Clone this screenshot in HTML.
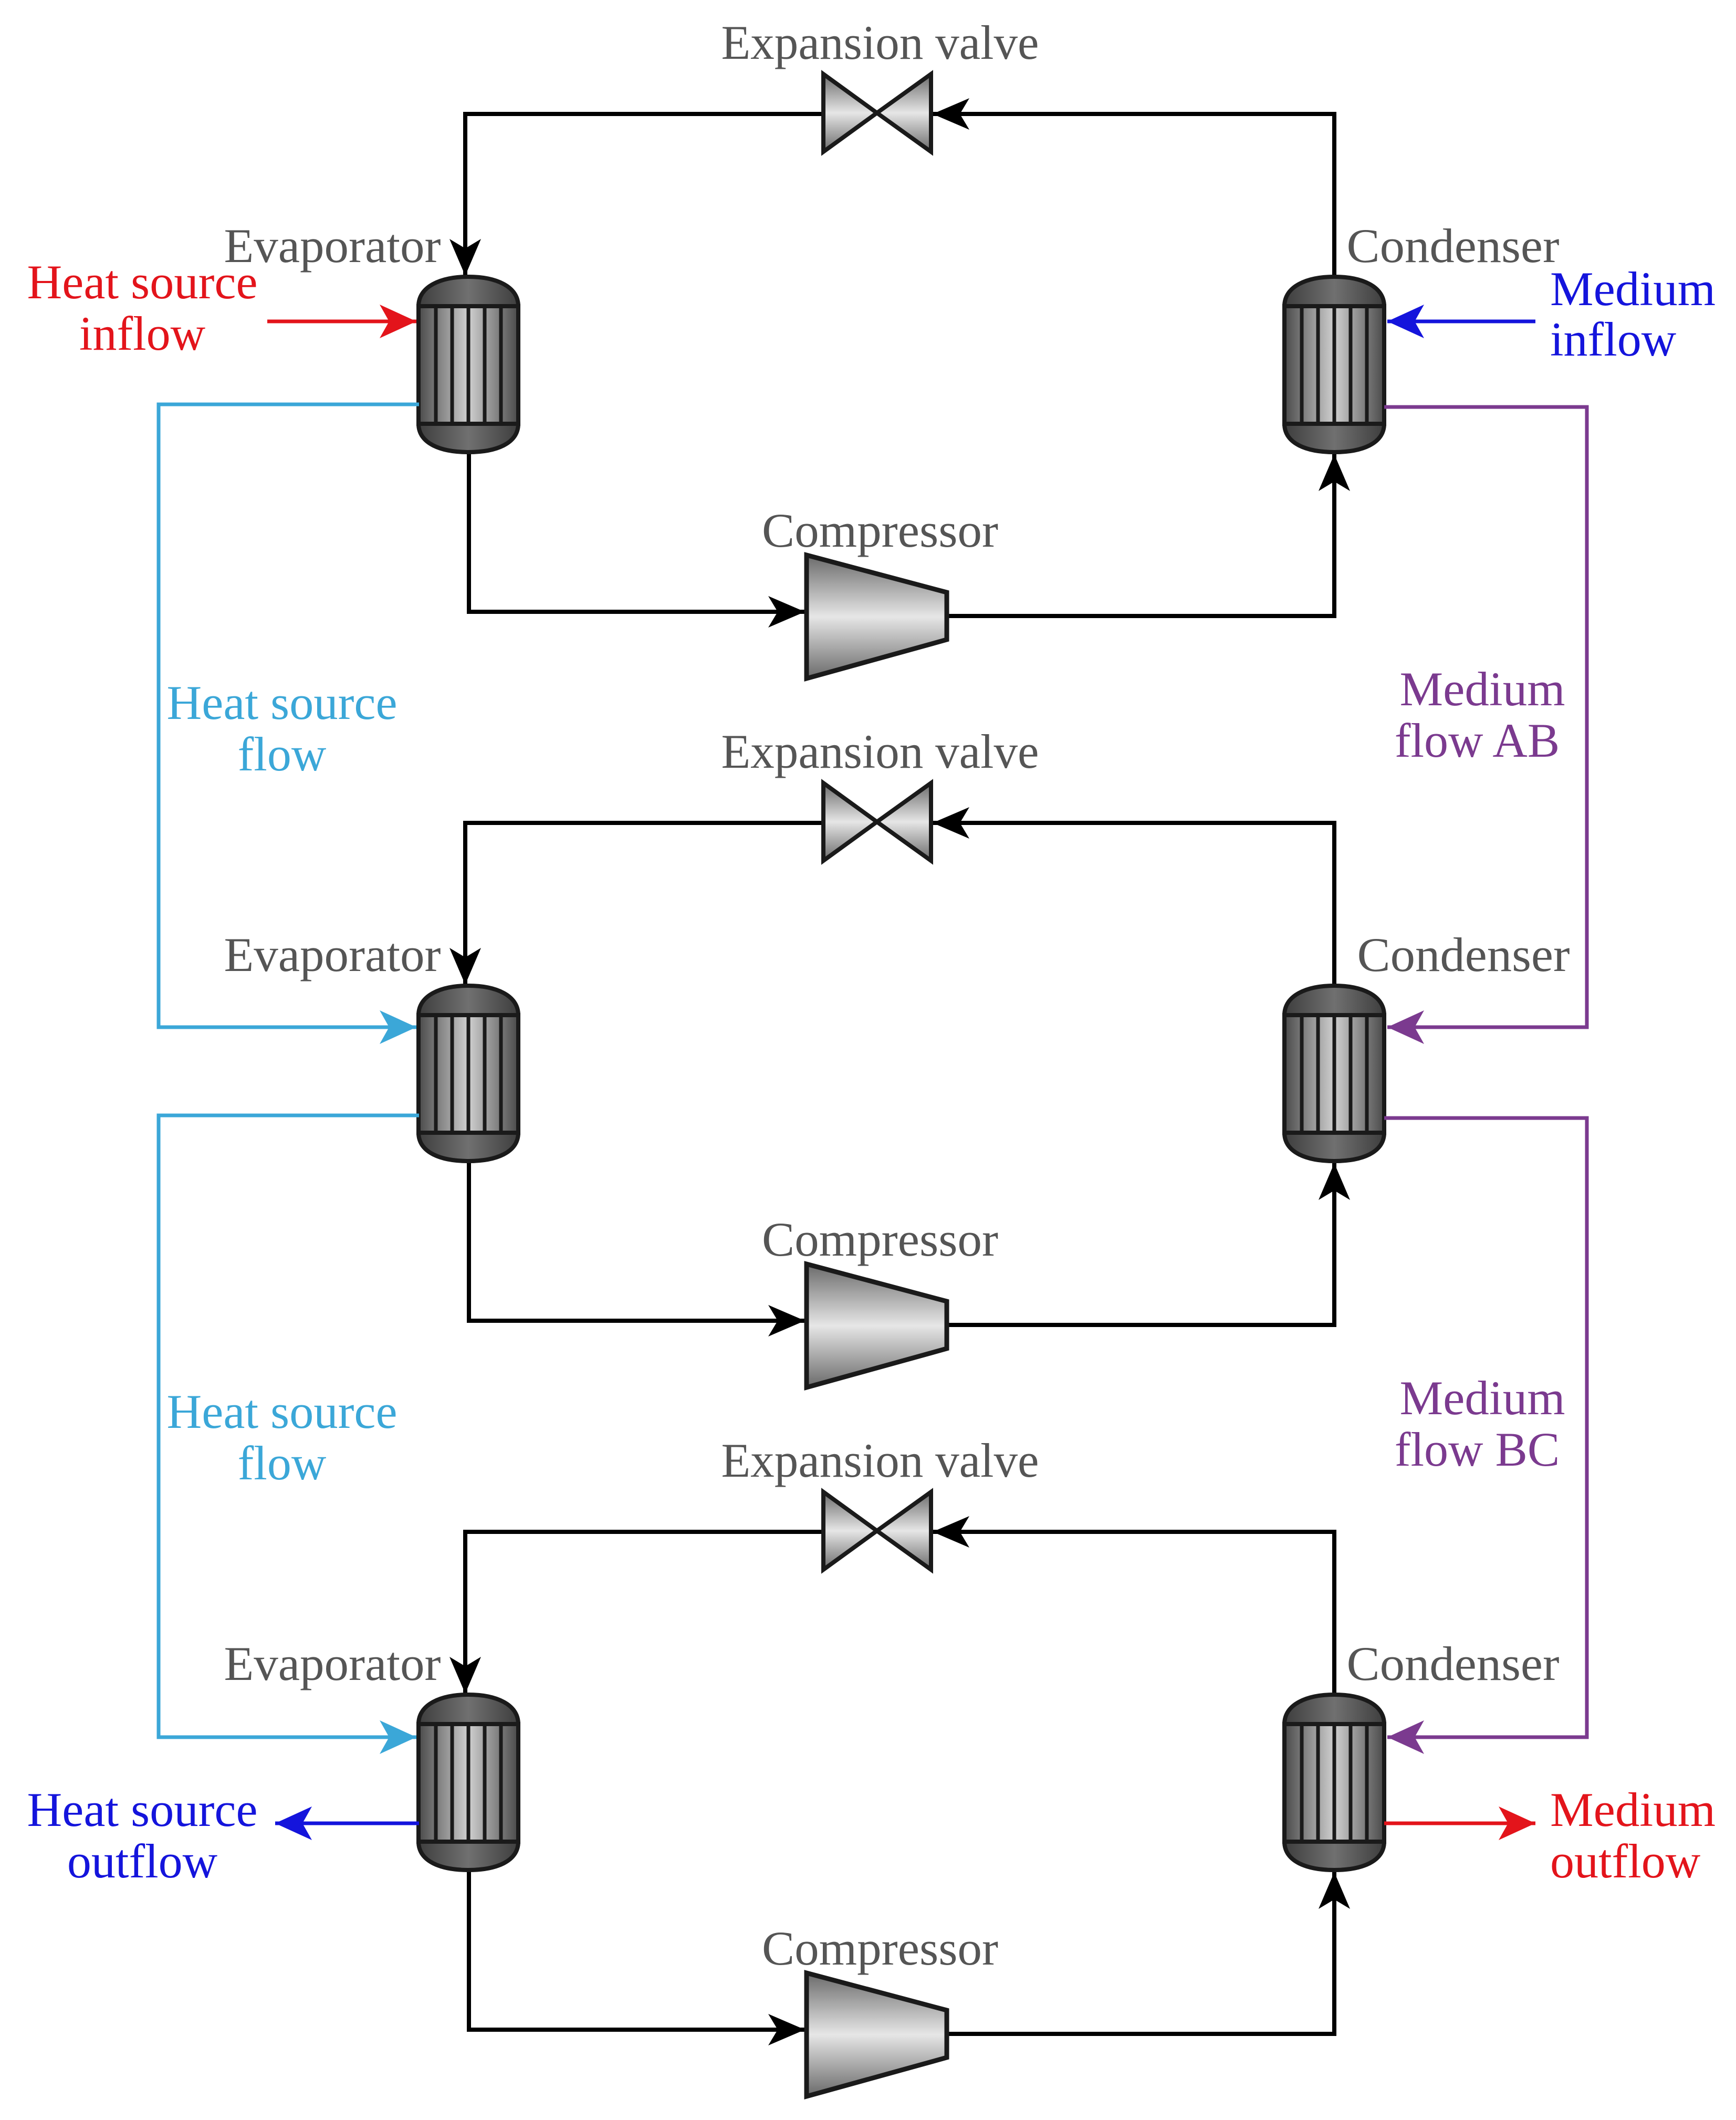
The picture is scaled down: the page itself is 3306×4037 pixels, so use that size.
<!DOCTYPE html>
<html><head><meta charset="utf-8"><style>html,body{margin:0;padding:0;background:#fff}svg{display:block}</style></head>
<body>
<svg width="3306" height="4037" viewBox="0 0 3306 4037" xmlns="http://www.w3.org/2000/svg" font-family="'Liberation Serif', serif" font-size="92">
<defs>
<linearGradient id="hx" x1="0" x2="1" y1="0" y2="0"><stop offset="0" stop-color="#4a4a4a"/><stop offset="0.5" stop-color="#d0d0d0"/><stop offset="1" stop-color="#4a4a4a"/></linearGradient>
<linearGradient id="dome" x1="0" x2="1"><stop offset="0" stop-color="#3e3e3e"/><stop offset="0.5" stop-color="#707070"/><stop offset="1" stop-color="#3e3e3e"/></linearGradient>
<linearGradient id="vg" x1="0" x2="0" y1="0" y2="1"><stop offset="0" stop-color="#6a6a6a"/><stop offset="0.5" stop-color="#e6e6e6"/><stop offset="1" stop-color="#6a6a6a"/></linearGradient>
<marker id="ak" markerUnits="userSpaceOnUse" markerWidth="90" markerHeight="90" viewBox="-80 -45 90 90" refX="0" refY="0" orient="auto"><path d="M0,0 L-70,-30 L-52,0 L-70,30 Z" fill="#000"/></marker>
<marker id="ar" markerUnits="userSpaceOnUse" markerWidth="90" markerHeight="90" viewBox="-80 -45 90 90" refX="0" refY="0" orient="auto"><path d="M0,0 L-70,-32 L-52,0 L-70,32 Z" fill="#e3141b"/></marker>
<marker id="ab" markerUnits="userSpaceOnUse" markerWidth="90" markerHeight="90" viewBox="-80 -45 90 90" refX="0" refY="0" orient="auto"><path d="M0,0 L-70,-32 L-52,0 L-70,32 Z" fill="#1414dc"/></marker>
<marker id="al" markerUnits="userSpaceOnUse" markerWidth="90" markerHeight="90" viewBox="-80 -45 90 90" refX="0" refY="0" orient="auto"><path d="M0,0 L-70,-32 L-52,0 L-70,32 Z" fill="#3ba7d8"/></marker>
<marker id="ap" markerUnits="userSpaceOnUse" markerWidth="90" markerHeight="90" viewBox="-80 -45 90 90" refX="0" refY="0" orient="auto"><path d="M0,0 L-70,-32 L-52,0 L-70,32 Z" fill="#7b3a8f"/></marker>
<g id="hxu">
<path d="M-95,56 C-95,18 -52,0 0,0 C52,0 95,18 95,56 L95,280 C95,318 52,334 0,334 C-52,334 -95,318 -95,280 Z" fill="url(#dome)" stroke="#1a1a1a" stroke-width="8"/>
<rect x="-95" y="56" width="190" height="224" fill="url(#hx)" stroke="#1a1a1a" stroke-width="8"/>
<g stroke="#1a1a1a" stroke-width="7"><line x1="-62" y1="56" x2="-62" y2="280"/><line x1="-31" y1="56" x2="-31" y2="280"/><line x1="0" y1="56" x2="0" y2="280"/><line x1="31" y1="56" x2="31" y2="280"/><line x1="62" y1="56" x2="62" y2="280"/></g>
</g>
<g id="blk">
<g fill="none" stroke="#000" stroke-width="8">
<polyline points="1568,217 886,217 886,525" marker-end="url(#ak)"/>
<polyline points="2541,527 2541,217 1776,217" marker-end="url(#ak)"/>
<polyline points="893,861 893,1165 1533,1165" marker-end="url(#ak)"/>
<polyline points="1803,1173 2541,1173 2541,865" marker-end="url(#ak)"/>
</g>
<path d="M1568,141 L1670,215 L1568,289 Z M1773,141 L1670,215 L1773,289 Z" fill="url(#vg)" stroke="#1a1a1a" stroke-width="8" stroke-linejoin="miter"/>
<path d="M1536,1057 L1803,1128 L1803,1218 L1536,1292 Z" fill="url(#vg)" stroke="#1a1a1a" stroke-width="9"/>
<use href="#hxu" x="892" y="527"/>
<use href="#hxu" x="2541" y="527"/>
<g fill="#555" text-anchor="middle">
<text x="1676" y="112" textLength="605" lengthAdjust="spacingAndGlyphs">Expansion valve</text>
<text x="633" y="499" textLength="413" lengthAdjust="spacingAndGlyphs">Evaporator</text>
<text x="1676" y="1041" textLength="450" lengthAdjust="spacingAndGlyphs">Compressor</text>
</g>
</g>
</defs>

<use href="#blk"/>
<use href="#blk" y="1350"/>
<use href="#blk" y="2700"/>

<g fill="#555" text-anchor="middle">
<text x="2767" y="499" textLength="405" lengthAdjust="spacingAndGlyphs">Condenser</text>
<text x="2787" y="1849" textLength="405" lengthAdjust="spacingAndGlyphs">Condenser</text>
<text x="2767" y="3199" textLength="405" lengthAdjust="spacingAndGlyphs">Condenser</text>
</g>

<g fill="none" stroke="#3ba7d8" stroke-width="7">
<polyline points="798,770 302,770 302,1956 793,1956" marker-end="url(#al)"/>
<polyline points="798,2124 302,2124 302,3308 793,3308" marker-end="url(#al)"/>
</g>
<g fill="none" stroke="#7b3a8f" stroke-width="7">
<polyline points="2636,775 3022,775 3022,1956 2642,1956" marker-end="url(#ap)"/>
<polyline points="2636,2129 3022,2129 3022,3308 2642,3308" marker-end="url(#ap)"/>
</g>
<line x1="509" y1="612" x2="793" y2="612" stroke="#e3141b" stroke-width="7" marker-end="url(#ar)"/>
<line x1="2924" y1="612" x2="2642" y2="612" stroke="#1414dc" stroke-width="7" marker-end="url(#ab)"/>
<line x1="798" y1="3472" x2="524" y2="3472" stroke="#1414dc" stroke-width="7" marker-end="url(#ab)"/>
<line x1="2636" y1="3472" x2="2924" y2="3472" stroke="#e3141b" stroke-width="7" marker-end="url(#ar)"/>

<g text-anchor="middle">
<text x="271" y="568" fill="#e3141b" textLength="439" lengthAdjust="spacingAndGlyphs">Heat source</text>
<text x="271" y="666" fill="#e3141b">inflow</text>
<text x="271" y="3477" fill="#1414dc" textLength="439" lengthAdjust="spacingAndGlyphs">Heat source</text>
<text x="271" y="3575" fill="#1414dc">outflow</text>
<text x="537" y="1369" fill="#3ba7d8" textLength="439" lengthAdjust="spacingAndGlyphs">Heat source</text>
<text x="537" y="1467" fill="#3ba7d8">flow</text>
<text x="537" y="2719" fill="#3ba7d8" textLength="439" lengthAdjust="spacingAndGlyphs">Heat source</text>
<text x="537" y="2817" fill="#3ba7d8">flow</text>
<text x="2823" y="1343" fill="#7b3a8f" textLength="315" lengthAdjust="spacingAndGlyphs">Medium</text>
<text x="2813" y="1441" fill="#7b3a8f">flow AB</text>
<text x="2823" y="2693" fill="#7b3a8f" textLength="315" lengthAdjust="spacingAndGlyphs">Medium</text>
<text x="2813" y="2791" fill="#7b3a8f">flow BC</text>
</g>
<g text-anchor="start">
<text x="2952" y="581" fill="#1414dc" textLength="315" lengthAdjust="spacingAndGlyphs">Medium</text>
<text x="2952" y="677" fill="#1414dc">inflow</text>
<text x="2952" y="3477" fill="#e3141b" textLength="315" lengthAdjust="spacingAndGlyphs">Medium</text>
<text x="2952" y="3575" fill="#e3141b">outflow</text>
</g>
</svg>
</body></html>
